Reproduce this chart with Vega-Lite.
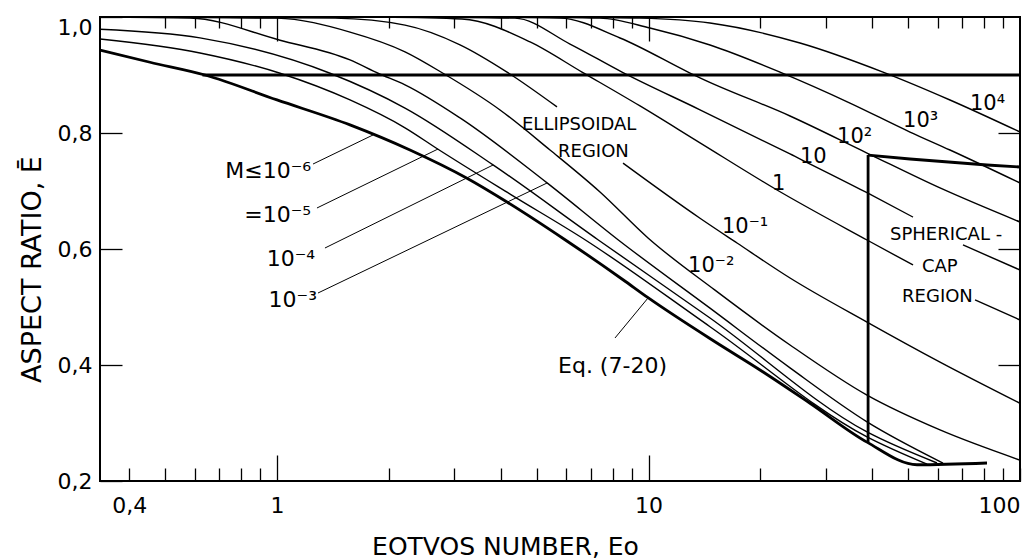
{
  "$schema": "https://vega.github.io/schema/vega-lite/v6.json",
  "width": 920,
  "height": 464,
  "autosize": {"type": "none"},
  "padding": {"left": 100, "top": 17, "right": 5, "bottom": 78},
  "background": "white",
  "config": {
    "view": {"stroke": "black", "strokeWidth": 2},
    "axis": {"domain": false, "grid": false, "labelFont": "DejaVu Sans", "titleFont": "DejaVu Sans", "labelColor": "black", "titleColor": "black", "tickColor": "black", "titleFontWeight": "normal", "tickWidth": 1.3},
    "text": {"font": "DejaVu Sans", "color": "black"}
  },
  "datasets": {
    "thin": [
      {"c": "m5", "Eo": 0.334, "E": 0.962}, {"c": "m5", "Eo": 0.6205, "E": 0.938}, {"c": "m5", "Eo": 1.019, "E": 0.903}, {"c": "m5", "Eo": 1.572, "E": 0.857}, {"c": "m5", "Eo": 2.211, "E": 0.809}, {"c": "m5", "Eo": 2.713, "E": 0.772}, {"c": "m5", "Eo": 4.24, "E": 0.6947}, {"c": "m5", "Eo": 6.746, "E": 0.616}, {"c": "m5", "Eo": 14.64, "E": 0.466}, {"c": "m5", "Eo": 38.74, "E": 0.276}, {"c": "m5", "Eo": 56.19, "E": 0.229},
      {"c": "m4", "Eo": 0.334, "E": 0.979}, {"c": "m4", "Eo": 0.6205, "E": 0.964}, {"c": "m4", "Eo": 1.389, "E": 0.903}, {"c": "m4", "Eo": 2.211, "E": 0.843}, {"c": "m4", "Eo": 3.815, "E": 0.745}, {"c": "m4", "Eo": 7.311, "E": 0.616}, {"c": "m4", "Eo": 14.64, "E": 0.481}, {"c": "m4", "Eo": 38.74, "E": 0.2845}, {"c": "m4", "Eo": 59.78, "E": 0.231},
      {"c": "m3", "Eo": 0.334, "E": 1.0}, {"c": "m3", "Eo": 0.583, "E": 0.9983}, {"c": "m3", "Eo": 1.019, "E": 0.96}, {"c": "m3", "Eo": 1.572, "E": 0.926}, {"c": "m3", "Eo": 1.87, "E": 0.903}, {"c": "m3", "Eo": 2.211, "E": 0.883}, {"c": "m3", "Eo": 3.109, "E": 0.826}, {"c": "m3", "Eo": 5.332, "E": 0.714}, {"c": "m3", "Eo": 8.278, "E": 0.616}, {"c": "m3", "Eo": 14.64, "E": 0.498}, {"c": "m3", "Eo": 24.04, "E": 0.395}, {"c": "m3", "Eo": 38.74, "E": 0.302}, {"c": "m3", "Eo": 62.04, "E": 0.231},
      {"c": "m2", "Eo": 0.455, "E": 1.0}, {"c": "m2", "Eo": 1.0, "E": 0.998}, {"c": "m2", "Eo": 1.572, "E": 0.974}, {"c": "m2", "Eo": 2.211, "E": 0.94}, {"c": "m2", "Eo": 2.798, "E": 0.903}, {"c": "m2", "Eo": 3.984, "E": 0.8397}, {"c": "m2", "Eo": 5.431, "E": 0.7707}, {"c": "m2", "Eo": 7.403, "E": 0.6983}, {"c": "m2", "Eo": 9.97, "E": 0.619}, {"c": "m2", "Eo": 15.1, "E": 0.529}, {"c": "m2", "Eo": 24.04, "E": 0.4345}, {"c": "m2", "Eo": 38.74, "E": 0.348}, {"c": "m2", "Eo": 60.91, "E": 0.288}, {"c": "m2", "Eo": 100, "E": 0.236},
      {"c": "m1a", "Eo": 0.6205, "E": 1.0}, {"c": "m1a", "Eo": 1.433, "E": 0.998}, {"c": "m1a", "Eo": 2.211, "E": 0.986}, {"c": "m1a", "Eo": 3.109, "E": 0.952}, {"c": "m1a", "Eo": 4.16, "E": 0.905}, {"c": "m1a", "Eo": 5.671, "E": 0.845},
      {"c": "m1b", "Eo": 8.539, "E": 0.748}, {"c": "m1b", "Eo": 13.76, "E": 0.653}, {"c": "m1b", "Eo": 17.31, "E": 0.6103}, {"c": "m1b", "Eo": 24.04, "E": 0.55}, {"c": "m1b", "Eo": 38.74, "E": 0.474}, {"c": "m1b", "Eo": 60.91, "E": 0.405}, {"c": "m1b", "Eo": 100, "E": 0.334},
      {"c": "p0a", "Eo": 1.894, "E": 1.0}, {"c": "p0a", "Eo": 3.147, "E": 0.9966}, {"c": "p0a", "Eo": 4.8, "E": 0.957}, {"c": "p0a", "Eo": 6.622, "E": 0.905}, {"c": "p0a", "Eo": 9.487, "E": 0.8466}, {"c": "p0a", "Eo": 13.76, "E": 0.783}, {"c": "p0a", "Eo": 22.18, "E": 0.7017}, {"c": "p0a", "Eo": 38.74, "E": 0.6155}, {"c": "p0a", "Eo": 51.52, "E": 0.5724},
      {"c": "p0b", "Eo": 75.68, "E": 0.5121}, {"c": "p0b", "Eo": 100, "E": 0.4776},
      {"c": "p1a", "Eo": 2.143, "E": 1.0}, {"c": "p1a", "Eo": 4.371, "E": 0.998}, {"c": "p1a", "Eo": 6.148, "E": 0.9534}, {"c": "p1a", "Eo": 8.486, "E": 0.905}, {"c": "p1a", "Eo": 13.76, "E": 0.84}, {"c": "p1a", "Eo": 24.04, "E": 0.7638}, {"c": "p1a", "Eo": 38.74, "E": 0.697}, {"c": "p1a", "Eo": 51.52, "E": 0.655},
      {"c": "p1b", "Eo": 70.23, "E": 0.607}, {"c": "p1b", "Eo": 100, "E": 0.5638},
      {"c": "p2", "Eo": 2.922, "E": 1.0}, {"c": "p2", "Eo": 5.778, "E": 0.998}, {"c": "p2", "Eo": 8.381, "E": 0.9638}, {"c": "p2", "Eo": 12.78, "E": 0.905}, {"c": "p2", "Eo": 13.76, "E": 0.895}, {"c": "p2", "Eo": 24.04, "E": 0.8293}, {"c": "p2", "Eo": 38.74, "E": 0.7655}, {"c": "p2", "Eo": 60.91, "E": 0.7052}, {"c": "p2", "Eo": 100, "E": 0.6465},
      {"c": "p3", "Eo": 3.984, "E": 1.0}, {"c": "p3", "Eo": 7.403, "E": 0.998}, {"c": "p3", "Eo": 10.09, "E": 0.981}, {"c": "p3", "Eo": 14.64, "E": 0.9517}, {"c": "p3", "Eo": 22.59, "E": 0.905}, {"c": "p3", "Eo": 34.86, "E": 0.8517}, {"c": "p3", "Eo": 50.57, "E": 0.8017}, {"c": "p3", "Eo": 64.79, "E": 0.7707}, {"c": "p3", "Eo": 100, "E": 0.7138},
      {"c": "p4", "Eo": 5.778, "E": 1.0}, {"c": "p4", "Eo": 9.487, "E": 0.998}, {"c": "p4", "Eo": 14.64, "E": 0.9897}, {"c": "p4", "Eo": 25.57, "E": 0.9552}, {"c": "p4", "Eo": 42.78, "E": 0.905}, {"c": "p4", "Eo": 64.79, "E": 0.8569}, {"c": "p4", "Eo": 100, "E": 0.8017}
    ],
    "thick": [
      {"c": "eq", "Eo": 0.334, "E": 0.943}, {"c": "eq", "Eo": 0.455, "E": 0.922}, {"c": "eq", "Eo": 0.64, "E": 0.9}, {"c": "eq", "Eo": 1.0, "E": 0.857}, {"c": "eq", "Eo": 1.572, "E": 0.814}, {"c": "eq", "Eo": 2.28, "E": 0.7707}, {"c": "eq", "Eo": 3.246, "E": 0.722}, {"c": "eq", "Eo": 4.16, "E": 0.681}, {"c": "eq", "Eo": 5.96, "E": 0.616}, {"c": "eq", "Eo": 8.539, "E": 0.547}, {"c": "eq", "Eo": 9.97, "E": 0.516}, {"c": "eq", "Eo": 15.1, "E": 0.44}, {"c": "eq", "Eo": 19.96, "E": 0.3914}, {"c": "eq", "Eo": 27.21, "E": 0.334}, {"c": "eq", "Eo": 38.74, "E": 0.267}, {"c": "eq", "Eo": 52.81, "E": 0.228}, {"c": "eq", "Eo": 81.51, "E": 0.231}
    ],
    "bounds": [
      {"c": "h", "Eo": 0.63, "E": 0.9}, {"c": "h", "Eo": 100, "E": 0.9},
      {"c": "v", "Eo": 39, "E": 0.762}, {"c": "v", "Eo": 39, "E": 0.267},
      {"c": "cap", "Eo": 39, "E": 0.762}, {"c": "cap", "Eo": 50.57, "E": 0.7552}, {"c": "cap", "Eo": 81.51, "E": 0.7448}, {"c": "cap", "Eo": 100, "E": 0.7414}
    ],
    "leaders": [
      {"c": "l6", "Eo": 1.25, "E": 0.7465}, {"c": "l6", "Eo": 1.813, "E": 0.7966},
      {"c": "l5", "Eo": 1.281, "E": 0.6707}, {"c": "l5", "Eo": 2.713, "E": 0.7724},
      {"c": "l4", "Eo": 1.346, "E": 0.6017}, {"c": "l4", "Eo": 3.815, "E": 0.7448},
      {"c": "l3", "Eo": 1.289, "E": 0.5241}, {"c": "l3", "Eo": 5.332, "E": 0.7138},
      {"c": "leq", "Eo": 8.125, "E": 0.4466}, {"c": "leq", "Eo": 9.97, "E": 0.5155}
    ],
    "labels": [
      {"k": "M", "t": "M≤10⁻⁶", "Eo": 1.235, "E": 0.7224},
      {"k": "M", "t": "=10⁻⁵", "Eo": 1.235, "E": 0.6465},
      {"k": "M", "t": "10⁻⁴", "Eo": 1.266, "E": 0.5707},
      {"k": "M", "t": "10⁻³", "Eo": 1.281, "E": 0.5},
      {"k": "curve", "t": "10⁻²", "Eo": 12.78, "E": 0.5603},
      {"k": "curve", "t": "10⁻¹", "Eo": 15.77, "E": 0.6276},
      {"k": "curve", "t": "1", "Eo": 21.5, "E": 0.7017},
      {"k": "curve", "t": "10", "Eo": 25.57, "E": 0.7483},
      {"k": "curve", "t": "10²", "Eo": 32.18, "E": 0.7828},
      {"k": "curve", "t": "10³", "Eo": 48.43, "E": 0.8103},
      {"k": "curve", "t": "10⁴", "Eo": 73.35, "E": 0.8397},
      {"k": "region", "t": "ELLIPSOIDAL", "Eo": 4.565, "E": 0.8052},
      {"k": "region", "t": "REGION", "Eo": 5.707, "E": 0.7586},
      {"k": "region", "t": "SPHERICAL -", "Eo": 44.68, "E": 0.6155},
      {"k": "region", "t": "CAP", "Eo": 54.47, "E": 0.5603},
      {"k": "region", "t": "REGION", "Eo": 48.14, "E": 0.5086},
      {"k": "eq", "t": "Eq. (7-20)", "Eo": 5.707, "E": 0.3862}
    ]
  },
  "layer": [
    {
      "data": {"name": "thin"},
      "mark": {"type": "line", "color": "black", "strokeWidth": 1.4, "interpolate": "monotone"},
      "encoding": {
        "x": {"field": "Eo", "type": "quantitative", "scale": {"type": "log", "domain": [0.3338, 100], "nice": false},
          "axis": {"orient": "bottom", "values": [0.4, 0.5, 0.6, 0.7, 0.8, 0.9, 1, 2, 3, 4, 5, 6, 7, 8, 9, 10, 20, 30, 40, 50, 60, 70, 80, 90, 100],
            "labelExpr": "datum.value == 0.4 ? '0,4' : datum.value == 1 ? '1' : datum.value == 10 ? '10' : datum.value == 100 ? '100' : ''",
            "labelFontSize": 22, "labelOverlap": false, "labelFlush": true,
            "tickSize": {"condition": {"test": "datum.value == 1 || datum.value == 10", "value": -26}, "value": -13},
            "labelPadding": {"condition": {"test": "datum.value == 1 || datum.value == 10", "value": 40}, "value": 27},
            "title": "EOTVOS NUMBER, Eo", "titleFontSize": 25, "titleX": 405, "titleY": 73, "titleBaseline": "alphabetic", "titleAlign": "center"}},
        "y": {"field": "E", "type": "quantitative", "scale": {"domain": [0.2, 1.0], "nice": false, "zero": false},
          "axis": {"orient": "left", "values": [0.2, 0.4, 0.6, 0.8, 1.0], "labelExpr": "replace(format(datum.value, '.1f'), '.', ',')",
            "labelFontSize": 22, "tickSize": -22, "labelPadding": 30, "labelFlush": false, "labelOverlap": false,
            "labelBaseline": {"condition": {"test": "datum.value == 1", "value": "top"}, "value": "middle"},
            "title": "ASPECT RATIO, Ē", "titleFontSize": 27, "titleX": -60, "titleY": 252, "titleAngle": 270, "titleBaseline": "alphabetic", "titleAlign": "center"}},
        "detail": {"field": "c"}
      }
    },
    {
      "data": {"name": "thick"},
      "mark": {"type": "line", "color": "black", "strokeWidth": 2.8, "interpolate": "monotone"},
      "encoding": {
        "x": {"field": "Eo", "type": "quantitative", "scale": {"type": "log", "domain": [0.3338, 100], "nice": false},
          "axis": {"orient": "top", "values": [0.5, 0.6, 0.7, 0.8, 0.9, 1, 2, 3, 4, 5, 6, 7, 8, 9, 10, 20, 30, 40, 50, 60, 70, 80, 90], "labels": false, "title": null,
            "tickSize": {"condition": {"test": "datum.value == 1 || datum.value == 10", "value": -24}, "value": -11}}},
        "y": {"field": "E", "type": "quantitative", "scale": {"domain": [0.2, 1.0], "nice": false, "zero": false},
          "axis": {"orient": "right", "values": [0.4, 0.6, 0.8], "labels": false, "title": null, "tickSize": -22}},
        "detail": {"field": "c"}
      }
    },
    {
      "data": {"name": "bounds"},
      "mark": {"type": "line", "color": "black", "strokeWidth": 2.8},
      "encoding": {
        "x": {"field": "Eo", "type": "quantitative", "scale": {"type": "log", "domain": [0.3338, 100], "nice": false}, "axis": null},
        "y": {"field": "E", "type": "quantitative", "scale": {"domain": [0.2, 1.0], "nice": false, "zero": false}, "axis": null},
        "detail": {"field": "c"}
      }
    },
    {
      "data": {"name": "leaders"},
      "mark": {"type": "line", "color": "black", "strokeWidth": 1},
      "encoding": {
        "x": {"field": "Eo", "type": "quantitative", "scale": {"type": "log", "domain": [0.3338, 100], "nice": false}, "axis": null},
        "y": {"field": "E", "type": "quantitative", "scale": {"domain": [0.2, 1.0], "nice": false, "zero": false}, "axis": null},
        "detail": {"field": "c"}
      }
    },
    {
      "data": {"name": "labels"},
      "transform": [{"filter": "datum.k == 'M'"}],
      "mark": {"type": "text", "align": "right", "baseline": "alphabetic", "fontSize": 22},
      "encoding": {
        "x": {"field": "Eo", "type": "quantitative", "scale": {"type": "log", "domain": [0.3338, 100], "nice": false}, "axis": null},
        "y": {"field": "E", "type": "quantitative", "scale": {"domain": [0.2, 1.0], "nice": false, "zero": false}, "axis": null},
        "text": {"field": "t"}
      }
    },
    {
      "data": {"name": "labels"},
      "transform": [{"filter": "datum.k == 'curve'"}],
      "mark": {"type": "text", "align": "left", "baseline": "alphabetic", "fontSize": 21},
      "encoding": {
        "x": {"field": "Eo", "type": "quantitative", "scale": {"type": "log", "domain": [0.3338, 100], "nice": false}, "axis": null},
        "y": {"field": "E", "type": "quantitative", "scale": {"domain": [0.2, 1.0], "nice": false, "zero": false}, "axis": null},
        "text": {"field": "t"}
      }
    },
    {
      "data": {"name": "labels"},
      "transform": [{"filter": "datum.k == 'region'"}],
      "mark": {"type": "text", "align": "left", "baseline": "alphabetic", "fontSize": 18},
      "encoding": {
        "x": {"field": "Eo", "type": "quantitative", "scale": {"type": "log", "domain": [0.3338, 100], "nice": false}, "axis": null},
        "y": {"field": "E", "type": "quantitative", "scale": {"domain": [0.2, 1.0], "nice": false, "zero": false}, "axis": null},
        "text": {"field": "t"}
      }
    },
    {
      "data": {"name": "labels"},
      "transform": [{"filter": "datum.k == 'eq'"}],
      "mark": {"type": "text", "align": "left", "baseline": "alphabetic", "fontSize": 22},
      "encoding": {
        "x": {"field": "Eo", "type": "quantitative", "scale": {"type": "log", "domain": [0.3338, 100], "nice": false}, "axis": null},
        "y": {"field": "E", "type": "quantitative", "scale": {"domain": [0.2, 1.0], "nice": false, "zero": false}, "axis": null},
        "text": {"field": "t"}
      }
    }
  ],
  "resolve": {"axis": {"x": "independent", "y": "independent"}}
}
